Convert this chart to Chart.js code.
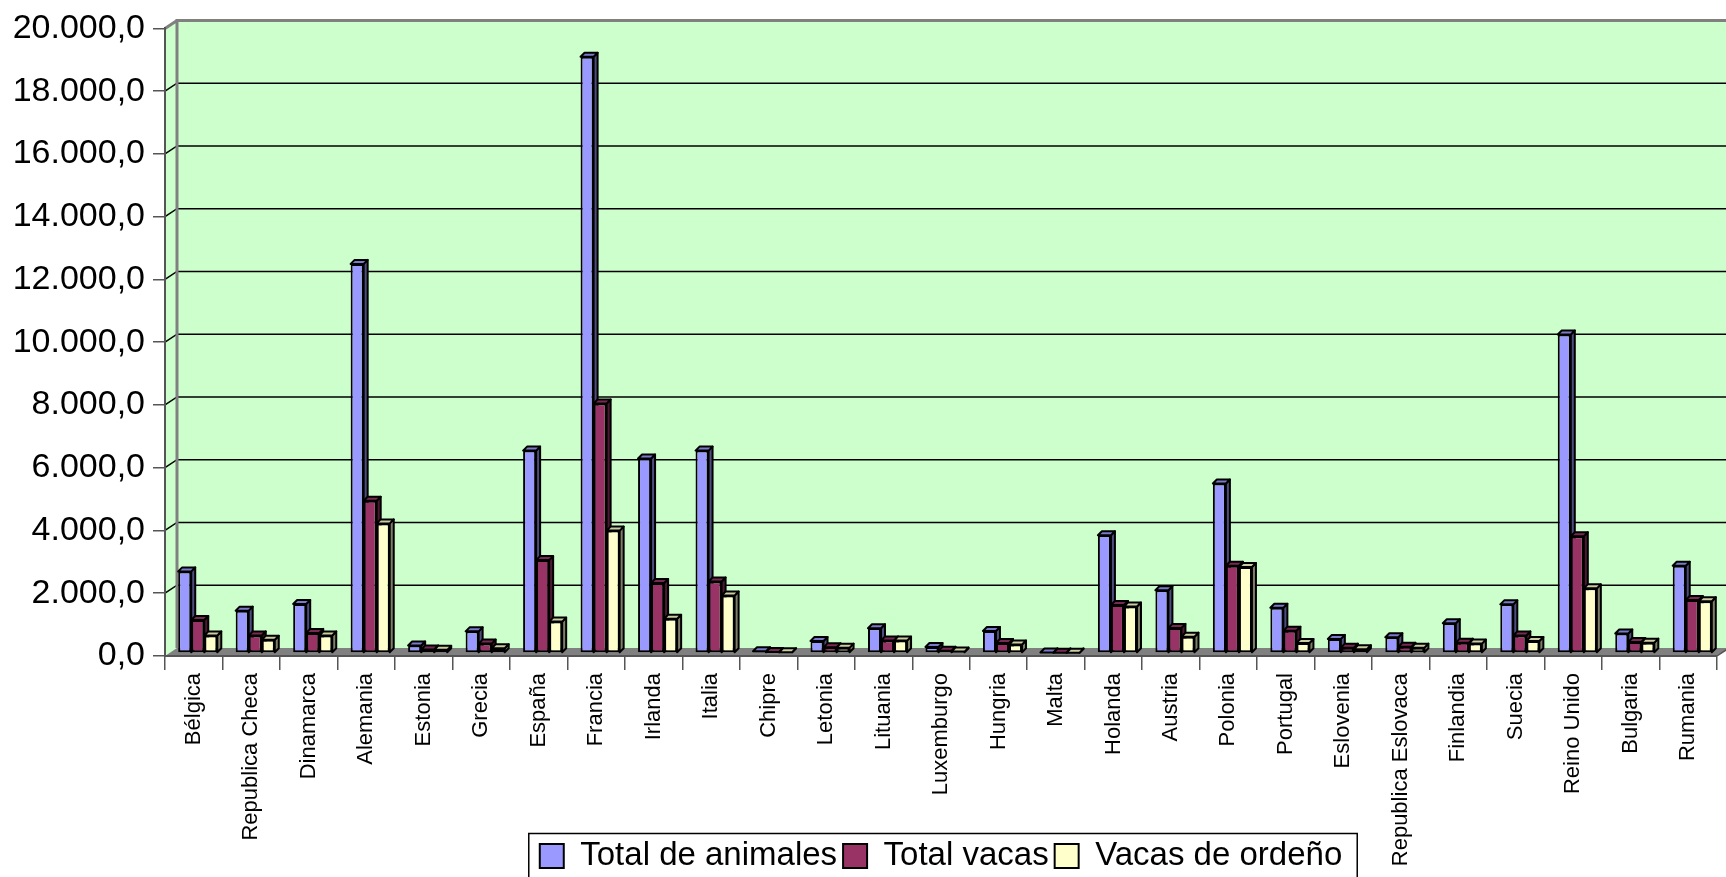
<!DOCTYPE html>
<html>
<head>
<meta charset="utf-8">
<script src="https://cdn.jsdelivr.net/npm/chart.js@4/dist/chart.umd.min.js"></script>
<style>
  body { margin: 0; background: #fff; }
  #wrap { width: 1726px; height: 877px; }
</style>
</head>
<body>
<div id="wrap"><canvas id="chart" width="1726" height="877"></canvas></div>
<script>
let paises = ['Bélgica', 'Republica Checa', 'Dinamarca', 'Alemania', 'Estonia', 'Grecia', 'España',
  'Francia', 'Irlanda', 'Italia', 'Chipre', 'Letonia', 'Lituania', 'Luxemburgo', 'Hungria', 'Malta',
  'Holanda', 'Austria', 'Polonia', 'Portugal', 'Eslovenia', 'Republica Eslovaca', 'Finlandia',
  'Suecia', 'Reino Unido', 'Bulgaria', 'Rumania'];

let total_animales = [2600, 1350, 1560, 12400, 240, 690, 6450, 19000, 6200, 6450, 55, 380, 790, 190,
  700, 18, 3750, 2000, 5400, 1440, 450, 500, 950, 1550, 10150, 620, 2780];
let total_vacas = [1050, 560, 640, 4850, 110, 300, 2960, 7950, 2230, 2280, 28, 180, 400, 70,
  320, 8, 1530, 800, 2780, 710, 170, 200, 330, 560, 3720, 350, 1690];
let vacas_ordeno = [560, 420, 560, 4130, 100, 150, 1000, 3900, 1090, 1830, 25, 170, 395, 45,
  270, 7, 1480, 520, 2740, 320, 120, 170, 300, 380, 2060, 330, 1650];

let front_colors = ['#9999FF', '#993366', '#FFFFCC'];
let top_colors = ['#7A7ACC', '#7A2952', '#CCCCA3'];
let side_colors = ['#4D4D80', '#4D1A33', '#80806A'];

const DX = 12, DY = 8;  // depth of the walls
const BD = 4;           // depth of each bar
const SX = 4, SY = -3;  // bars stand half way into the floor

function fmt(v) {
  return Math.round(v).toString().replace(/\B(?=(\d{3})+(?!\d))/g, '.') + ',0';
}

function poly(ctx, pts, fill) {
  ctx.beginPath();
  ctx.moveTo(pts[0][0], pts[0][1]);
  for (let i = 1; i < pts.length; ++i) ctx.lineTo(pts[i][0], pts[i][1]);
  ctx.closePath();
  ctx.fillStyle = fill;
  ctx.fill();
  ctx.stroke();
}

// back wall, floor, grid lines and the 3d faces of the bars
let walls = {
  id: 'walls',
  afterLayout(chart) {
    // let the long rotated labels run down past the legend top
    chart.scales.x.bottom = chart.height;
  },
  beforeDraw(chart) {
    let {ctx, chartArea: a, scales: {y}} = chart;
    let W = chart.width;
    ctx.save();
    ctx.fillStyle = '#CCFFCC';
    ctx.beginPath();
    ctx.moveTo(a.left, a.bottom);
    ctx.lineTo(a.left, a.top);
    ctx.lineTo(a.left + DX, a.top - DY);
    ctx.lineTo(W, a.top - DY);
    ctx.lineTo(W, a.bottom - DY);
    ctx.lineTo(a.right, a.bottom);
    ctx.closePath();
    ctx.fill();

    ctx.strokeStyle = '#000';
    ctx.lineWidth = 1.5;
    y.ticks.forEach(t => {
      if (t.value === 0) return;
      let yy = y.getPixelForValue(t.value);
      ctx.beginPath();
      ctx.moveTo(a.left, yy);
      ctx.lineTo(a.left + DX, yy - DY);
      ctx.lineTo(W, yy - DY);
      ctx.stroke();
    });

    // floor
    ctx.fillStyle = '#808080';
    ctx.beginPath();
    ctx.moveTo(a.left, a.bottom);
    ctx.lineTo(a.left + DX, a.bottom - DY);
    ctx.lineTo(a.right + DX, a.bottom - DY);
    ctx.lineTo(a.right, a.bottom);
    ctx.closePath();
    ctx.fill();

    ctx.strokeStyle = '#808080';
    ctx.lineWidth = 3;
    ctx.beginPath();
    ctx.moveTo(a.left + DX, a.bottom - DY);
    ctx.lineTo(a.left + DX, a.top - DY);
    ctx.lineTo(W, a.top - DY);
    ctx.moveTo(a.left, a.top);
    ctx.lineTo(a.left + DX, a.top - DY);
    ctx.stroke();
    ctx.strokeStyle = '#555';
    ctx.lineWidth = 1.5;
    ctx.beginPath();
    ctx.moveTo(a.right, a.bottom);
    ctx.lineTo(a.right + DX, a.bottom - DY);
    ctx.stroke();
    ctx.restore();
  },
  beforeDatasetsDraw(chart) {
    let ctx = chart.ctx;
    ctx.save();
    ctx.translate(SX, SY);
    ctx.strokeStyle = '#000';
    ctx.lineWidth = 2;
    ctx.lineJoin = 'round';
    chart.data.datasets.forEach((ds, i) => {
      chart.getDatasetMeta(i).data.forEach(bar => {
        let {x, y, base, width} = bar.getProps(['x', 'y', 'base', 'width'], true);
        let l = x - width / 2, r = x + width / 2;
        poly(ctx, [[r, y], [r + BD, y - BD], [r + BD, base - BD], [r, base]], side_colors[i]);
        poly(ctx, [[l, y], [l + BD, y - BD], [r + BD, y - BD], [r, y]], top_colors[i]);
      });
    });
    // keep the shift for the bar fronts drawn next
  },
  afterDatasetsDraw(chart) {
    chart.ctx.restore();
  },
  afterDraw(chart) {
    let {ctx, legend} = chart;
    let hb = legend.legendHitBoxes;
    if (!hb || !hb.length) return;
    let x0 = Math.min(...hb.map(h => h.left)) - 11;
    let x1 = Math.max(...hb.map(h => h.left + h.width)) + 15;
    ctx.save();
    ctx.strokeStyle = '#000';
    ctx.lineWidth = 1.5;
    ctx.strokeRect(x0, legend.top, x1 - x0, chart.height - legend.top + 5);
    ctx.restore();
  }
};

let FONT = "'Liberation Sans', Arial, sans-serif";

let datasets = [
  {label: 'Total de animales', data: total_animales},
  {label: 'Total vacas', data: total_vacas},
  {label: 'Vacas de ordeño', data: vacas_ordeno}
].map((d, i) => Object.assign(d, {
  backgroundColor: front_colors[i],
  borderColor: '#000',
  borderWidth: 2,
  borderSkipped: false,
  categoryPercentage: 0.68,
  barPercentage: 1.0
}));

let chart = new Chart(document.getElementById('chart'), {
  type: 'bar',
  data: {labels: paises, datasets: datasets},
  plugins: [walls],
  options: {
    responsive: false,
    animation: false,
    layout: {padding: {top: 21, right: 9, left: 0, bottom: 0}},
    plugins: {
      tooltip: {enabled: false},
      legend: {
        position: 'bottom',
        fullSize: false,
        maxHeight: 43.5,
        labels: {
          color: '#000',
          font: {family: FONT, size: 33},
          boxWidth: 24,
          boxHeight: 24,
          padding: 6
        }
      }
    },
    scales: {
      x: {
        afterFit: s => { s.height = 177.5; },
        grid: {offset: true, drawOnChartArea: false, tickLength: 14, color: '#555', lineWidth: 1.5},
        border: {display: true, color: '#555', width: 2},
        ticks: {
          autoSkip: false, minRotation: 90, maxRotation: 90, padding: 3,
          color: '#000', font: {family: FONT, size: 22}
        }
      },
      y: {
        min: 0,
        max: 20000,
        afterFit: s => { s.width = 165; },
        grid: {drawOnChartArea: false, tickLength: 12, color: '#555', lineWidth: 1.5},
        border: {display: true, color: '#555', width: 2},
        ticks: {
          stepSize: 2000, padding: 8, color: '#000',
          font: {family: FONT, size: 34},
          callback: v => fmt(v)
        }
      }
    }
  }
});
</script>
</body>
</html>
